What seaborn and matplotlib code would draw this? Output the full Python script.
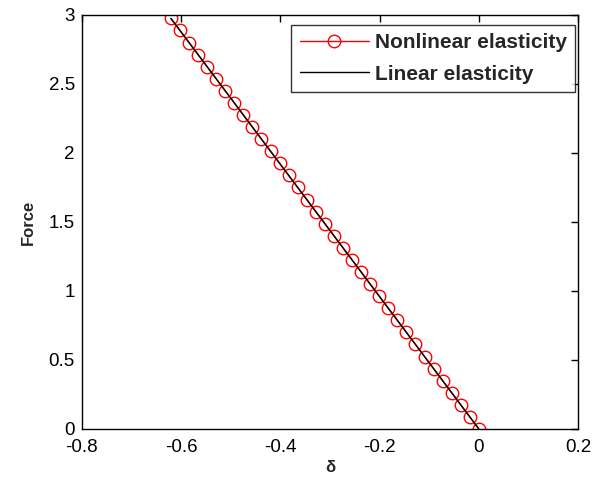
import matplotlib
matplotlib.use("Agg")
import matplotlib.pyplot as plt
import seaborn as sns
import pandas as pd

# Data
force_nl = [0.0, 0.0875, 0.175, 0.2625, 0.35, 0.4375, 0.525, 0.6125, 0.7, 0.7875,
            0.875, 0.9625, 1.05, 1.1375, 1.225, 1.3125, 1.4, 1.4875, 1.575, 1.6625,
            1.75, 1.8375, 1.925, 2.0125, 2.1, 2.1875, 2.275, 2.3625, 2.45, 2.5375,
            2.625, 2.7125, 2.8, 2.8875, 2.975]
delta_nl = [0.0, -0.0182, -0.0365, -0.0547, -0.0730, -0.0912, -0.1095, -0.1277, -0.1460, -0.1642,
            -0.1825, -0.2007, -0.2190, -0.2372, -0.2555, -0.2737, -0.2920, -0.3102, -0.3285, -0.3467,
            -0.3650, -0.3832, -0.4015, -0.4197, -0.4380, -0.4562, -0.4745, -0.4927, -0.5110, -0.5292,
            -0.5475, -0.5657, -0.5840, -0.6022, -0.6205]
force_lin = [0.0, 2.975]
delta_lin = [0.0, -0.6205]

xticks = [-0.8, -0.6, -0.4, -0.2, 0, 0.2]
xticklabels = ["-0.8", "-0.6", "-0.4", "-0.2", "0", "0.2"]
yticks = [0, 0.5, 1, 1.5, 2, 2.5, 3]
yticklabels = ["0", "0.5", "1", "1.5", "2", "2.5", "3"]

sns.set_style("white")
plt.rcParams['font.family'] = ['Liberation Sans', 'DejaVu Sans']

fig = plt.figure(figsize=(6.06, 4.82), dpi=100)
ax = fig.add_axes([0.135, 0.110, 0.819, 0.859])

df_nl = pd.DataFrame({"delta": delta_nl, "force": force_nl})
df_lin = pd.DataFrame({"delta": delta_lin, "force": force_lin})

sns.lineplot(data=df_nl, x="delta", y="force", ax=ax, color="red", lw=1,
             marker="o", markersize=9, markerfacecolor="none", markeredgecolor="red",
             markeredgewidth=1, label="Nonlinear elasticity", sort=False, estimator=None)
sns.lineplot(data=df_lin, x="delta", y="force", ax=ax, color="black", lw=1,
             label="Linear elasticity", sort=False, estimator=None)

ax.set_xlim(-0.8, 0.2)
ax.set_ylim(0, 3)
ax.set_xticks(xticks)
ax.set_xticklabels(xticklabels)
ax.set_yticks(yticks)
ax.set_yticklabels(yticklabels)
ax.tick_params(direction="in", length=5, width=1, top=True, right=True,
               labelsize=13.5, colors="black", pad=5)
ax.tick_params(axis="x", pad=7)
for s in ax.spines.values():
    s.set_visible(True)
    s.set_color("black")
    s.set_linewidth(1)

ax.set_xlabel("δ", fontsize=12, fontweight="bold", labelpad=3)
ax.set_ylabel("Force", fontsize=12, fontweight="bold", labelpad=9)

leg = ax.legend(loc="upper right", bbox_to_anchor=(0.994, 0.976), frameon=True,
                fancybox=False, edgecolor="black",
                prop={"weight": "bold", "size": 15}, handlelength=3.3,
                borderaxespad=0.0, borderpad=0.4, labelspacing=0.6, handletextpad=0.3)
leg.get_frame().set_linewidth(1)

fig.savefig("out.png", dpi=100)
